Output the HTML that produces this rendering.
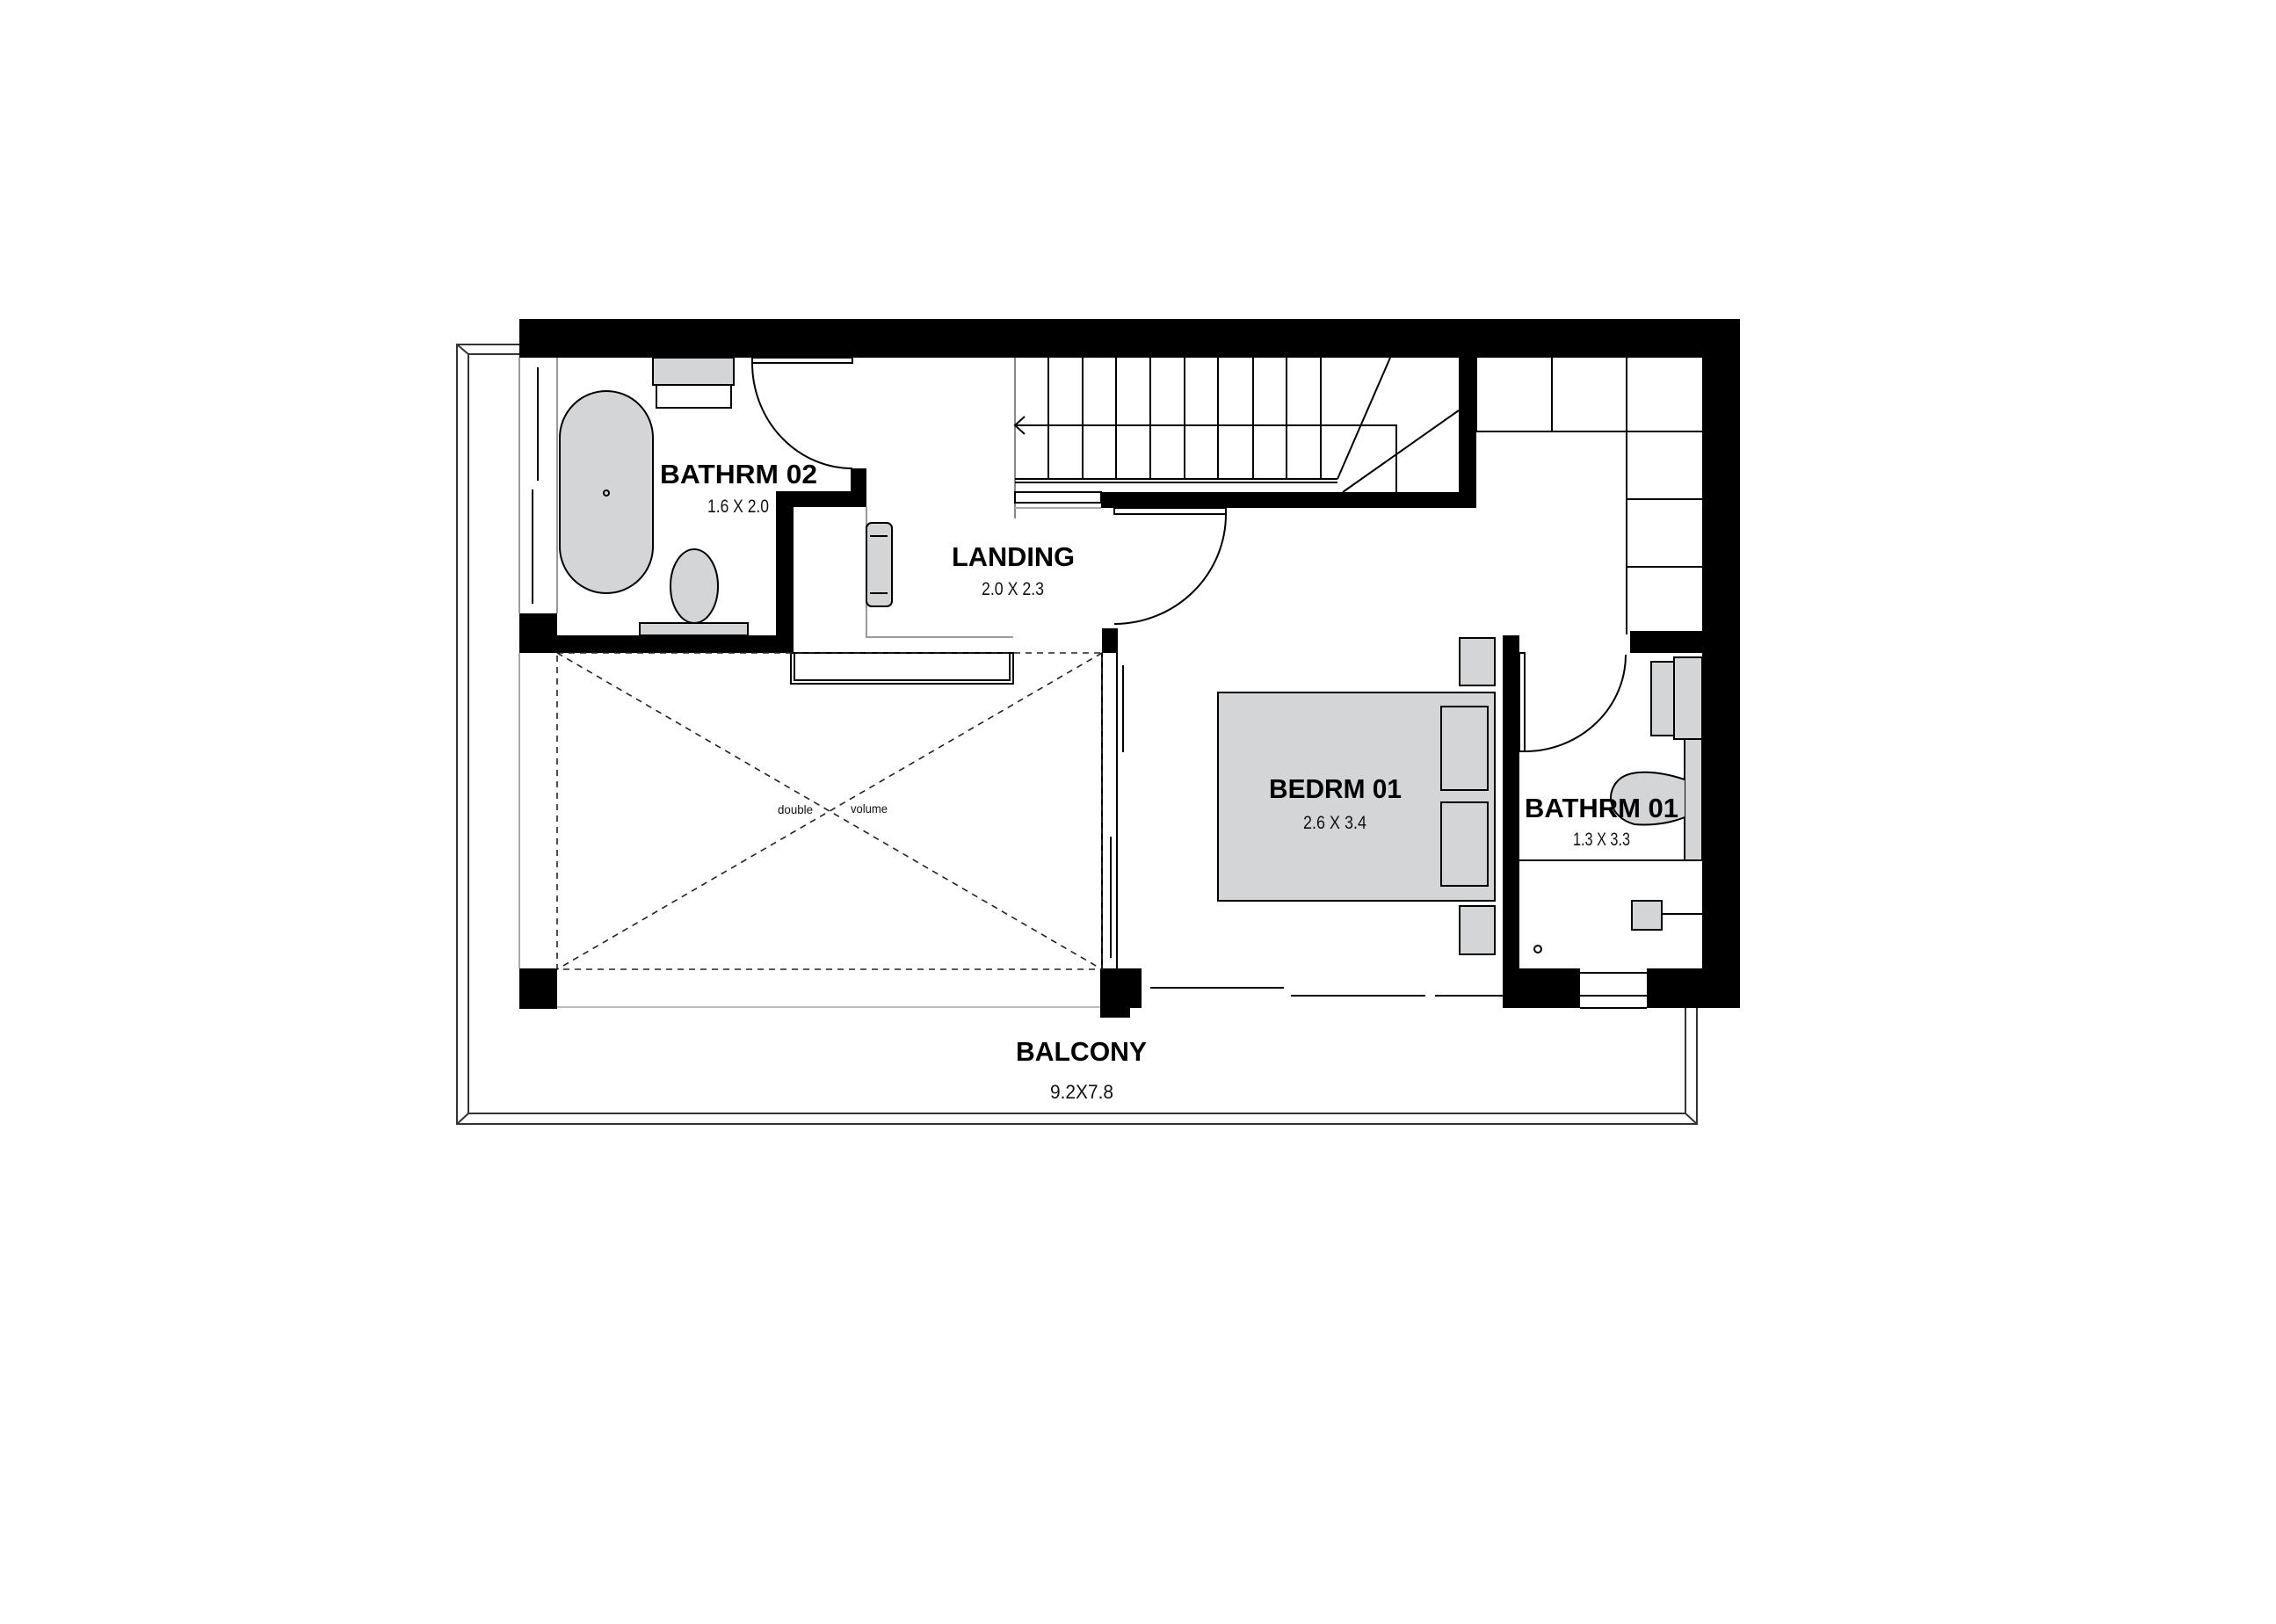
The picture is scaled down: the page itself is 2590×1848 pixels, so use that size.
<!DOCTYPE html>
<html><head><meta charset="utf-8"><style>
html,body{margin:0;padding:0;background:#fff;}
svg{display:block;}
.h{font-family:"Liberation Sans",sans-serif;font-weight:bold;fill:#000;}
.s{font-family:"Liberation Sans",sans-serif;fill:#111;}
</style></head><body>
<svg width="2590" height="1848" viewBox="0 0 2590 1848" xmlns="http://www.w3.org/2000/svg">
<rect width="2590" height="1848" fill="#fff"/>
<g fill="none" stroke="#333" stroke-width="2">
  <!-- balcony outline -->
  <polyline points="591,392 520,392 520,1279 1931,1279 1931,1147"/>
  <polyline points="591,403 533,403 533,1267 1918,1267 1918,1147"/>
  <line x1="520" y1="392" x2="533" y2="403"/>
  <line x1="520" y1="1279" x2="533" y2="1267"/>
  <line x1="1931" y1="1279" x2="1918" y2="1267"/>
</g>
<!-- walls -->
<g fill="#000">
  <rect x="591" y="363" width="1389" height="44"/>
  <rect x="1937" y="363" width="43" height="784"/>
  <rect x="591" y="698" width="43" height="45"/>
  <rect x="591" y="723" width="309" height="20"/>
  <rect x="883" y="559" width="20" height="184"/>
  <rect x="883" y="559" width="103" height="18"/>
  <rect x="968" y="533" width="18" height="44"/>
  <rect x="591" y="1102" width="43" height="46"/>
  <rect x="1254" y="715" width="18" height="28"/>
  <rect x="1252" y="1102" width="47" height="45"/>
  <rect x="1252" y="1140" width="34" height="18"/>
  <rect x="1253" y="560" width="427" height="18"/>
  <rect x="1660" y="407" width="20" height="171"/>
  <rect x="1855" y="718" width="82" height="25"/>
  <rect x="1710" y="723" width="19" height="424"/>
  <rect x="1710" y="1102" width="88" height="45"/>
  <rect x="1874" y="1102" width="63" height="45"/>
</g>
<g fill="none" stroke="#000" stroke-width="2">
  <!-- bath02 side/window -->
  <line x1="591" y1="407" x2="591" y2="698" stroke="#999"/>
  <line x1="634" y1="407" x2="634" y2="698" stroke="#999"/>
  <line x1="612" y1="418" x2="612" y2="547"/>
  <line x1="606" y1="557" x2="606" y2="687"/>
  <!-- bath02 door -->
  <rect x="856" y="407" width="114" height="6"/>
  <path d="M856,413 A114,120 0 0 0 970,533"/>
  <!-- landing lines -->
  <polyline points="986,577 986,725 1153,725" stroke="#999"/>
  <rect x="900" y="743" width="253" height="35"/>
  <rect x="904" y="743" width="245" height="31"/>
  <!-- stairs -->
  <line x1="1155" y1="407" x2="1155" y2="590" stroke="#888"/>
  <line x1="1193" y1="407" x2="1193" y2="545"/><line x1="1232" y1="407" x2="1232" y2="545"/>
  <line x1="1270" y1="407" x2="1270" y2="545"/><line x1="1309" y1="407" x2="1309" y2="545"/>
  <line x1="1348" y1="407" x2="1348" y2="545"/><line x1="1386" y1="407" x2="1386" y2="545"/>
  <line x1="1426" y1="407" x2="1426" y2="545"/><line x1="1464" y1="407" x2="1464" y2="545"/>
  <line x1="1503" y1="407" x2="1503" y2="545"/>
  <polyline points="1155,484 1589,484 1589,560"/>
  <polyline points="1166,474 1155,484 1166,494"/>
  <line x1="1582" y1="407" x2="1522" y2="545"/>
  <line x1="1660" y1="467" x2="1528" y2="560"/>
  <line x1="1155" y1="545" x2="1522" y2="545"/>
  <line x1="1155" y1="549" x2="1522" y2="549"/>
  <rect x="1155" y="560" width="98" height="12"/>
  <line x1="1155" y1="578" x2="1253" y2="578" stroke="#aaa"/>
  <!-- landing door -->
  <rect x="1268" y="578" width="127" height="7"/>
  <path d="M1395,585 A127,125 0 0 1 1268,710"/>
  <!-- glazing -->
  <line x1="1254" y1="743" x2="1254" y2="1102"/>
  <line x1="1271" y1="743" x2="1271" y2="1102"/>
  <line x1="1278" y1="757" x2="1278" y2="856"/>
  <line x1="1264" y1="952" x2="1264" y2="1090"/>
  <!-- wardrobe -->
  <line x1="1680" y1="407" x2="1680" y2="491"/>
  <polyline points="1680,491 1851,491 1851,722"/>
  <line x1="1766" y1="407" x2="1766" y2="491"/>
  <line x1="1851" y1="407" x2="1851" y2="491"/>
  <line x1="1851" y1="491" x2="1937" y2="491"/>
  <line x1="1851" y1="568" x2="1937" y2="568"/>
  <line x1="1851" y1="645" x2="1937" y2="645"/>
  <!-- bath01 door -->
  <rect x="1729" y="743" width="6" height="112"/>
  <path d="M1735,855 A115,110 0 0 0 1850,745"/>
  <line x1="1729" y1="979" x2="1937" y2="979"/>
  <!-- bath01 window -->
  <line x1="1798" y1="1107" x2="1874" y2="1107"/>
  <line x1="1798" y1="1133" x2="1874" y2="1133"/>
  <line x1="1798" y1="1147" x2="1874" y2="1147"/>
  <!-- sliding door -->
  <line x1="1309" y1="1124" x2="1461" y2="1124"/>
  <line x1="1469" y1="1133" x2="1622" y2="1133"/>
  <line x1="1633" y1="1133" x2="1710" y2="1133"/>
  <!-- double volume -->
  <g stroke-dasharray="7,6" stroke-width="1.6" stroke="#222">
    <rect x="634" y="743" width="620" height="360"/>
    <line x1="634" y1="743" x2="1254" y2="1103"/>
    <line x1="1254" y1="743" x2="634" y2="1103"/>
  </g>
  <line x1="591" y1="743" x2="591" y2="1102" stroke="#aaa"/>
  <line x1="634" y1="1146" x2="1252" y2="1146" stroke="#bbb"/>
</g>
<!-- fixtures -->
<g fill="#d4d5d7" stroke="#000" stroke-width="2">
  <rect x="743" y="407" width="92" height="31"/>
  <rect x="747" y="438" width="85" height="26" fill="#fff"/>
  <rect x="637" y="445" width="106" height="230" rx="53" ry="53"/>
  <ellipse cx="790" cy="667" rx="27" ry="42"/>
  <rect x="728" y="709" width="123" height="14"/>
  <rect x="986" y="595" width="29" height="95" rx="6"/>
  <rect x="1386" y="788" width="315" height="237"/>
  <rect x="1640" y="804" width="53" height="95"/>
  <rect x="1640" y="913" width="53" height="95"/>
  <rect x="1661" y="726" width="40" height="54"/>
  <rect x="1661" y="1031" width="40" height="55"/>
  <rect x="1879" y="753" width="26" height="84"/>
  <rect x="1905" y="748" width="32" height="93"/>
  <rect x="1917" y="841" width="20" height="138"/>
  <path d="M1917,887 C1890,878 1860,875 1845,885 C1825,900 1830,930 1860,938 C1885,940 1905,935 1917,930"/>
  <rect x="1857" y="1025" width="34" height="33"/>
</g>
<g fill="none" stroke="#000" stroke-width="2">
  <circle cx="690" cy="561" r="3"/>
  <circle cx="1750" cy="1080" r="4"/>
  <line x1="1891" y1="1040" x2="1937" y2="1040"/>
  <line x1="990" y1="610" x2="1010" y2="610"/><line x1="990" y1="675" x2="1010" y2="675"/>
</g>
<!-- labels -->
<text class="h" x="751" y="550" font-size="31" textLength="179" lengthAdjust="spacingAndGlyphs">BATHRM 02</text>
<text class="s" x="805" y="583" font-size="21" textLength="70" lengthAdjust="spacingAndGlyphs">1.6 X 2.0</text>
<text class="h" x="1083" y="644" font-size="31" textLength="140" lengthAdjust="spacingAndGlyphs">LANDING</text>
<text class="s" x="1117" y="677" font-size="21" textLength="71" lengthAdjust="spacingAndGlyphs">2.0 X 2.3</text>
<text class="h" x="1444" y="908" font-size="31" textLength="151" lengthAdjust="spacingAndGlyphs">BEDRM 01</text>
<text class="s" x="1483" y="943" font-size="21" textLength="72" lengthAdjust="spacingAndGlyphs">2.6 X 3.4</text>
<text class="h" x="1735" y="930" font-size="31" textLength="175" lengthAdjust="spacingAndGlyphs">BATHRM 01</text>
<text class="s" x="1790" y="962" font-size="21" textLength="65" lengthAdjust="spacingAndGlyphs">1.3 X 3.3</text>
<text class="h" x="1156" y="1207" font-size="31" textLength="149" lengthAdjust="spacingAndGlyphs">BALCONY</text>
<text class="s" x="1195" y="1250" font-size="22" textLength="72" lengthAdjust="spacingAndGlyphs">9.2X7.8</text>
<text class="s" x="885" y="926" font-size="14" textLength="40" lengthAdjust="spacingAndGlyphs">double</text>
<text class="s" x="968" y="925" font-size="14" textLength="42" lengthAdjust="spacingAndGlyphs">volume</text>
</svg>
</body></html>
